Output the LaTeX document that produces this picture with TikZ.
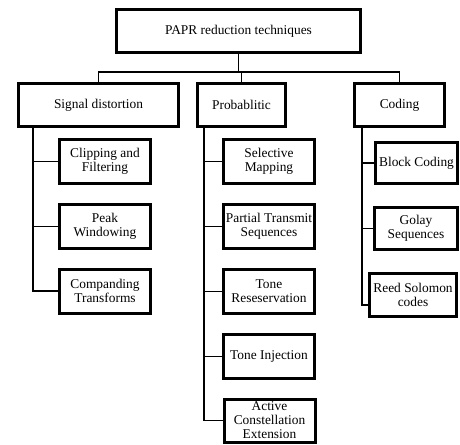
\documentclass[tikz,border=0pt]{standalone}
\usepackage{fontspec}
\setmainfont{Liberation Serif}

\begin{document}
\begin{tikzpicture}[
	x = 1pt, y = -1pt,
	caja/.style = {
		draw, line width = 3pt, align = center, inner sep = 0.5pt,
		font = \fontsize{13.4}{14}\selectfont
	},
	hoja/.style = {caja, minimum width = 91pt, minimum height = 44pt},
	rama/.style = {line width = 1.7pt},
]

	% márgenes del dibujo
	\useasboundingbox (0,0) rectangle (460,444);

	% nodo raíz
	\node[caja, minimum width = 244pt, minimum height = 43pt]
		(papr) at (238.5,31) {PAPR reduction techniques};

	% categorías
	\node[caja, minimum width = 160pt, minimum height = 43pt]
		(dist) at (98.5,105) {Signal distortion};
	\node[caja, minimum width = 88pt, minimum height = 43pt]
		(prob) at (241.5,105) {Probablitic};
	\node[caja, minimum width = 90pt, minimum height = 43pt]
		(cod) at (399.5,105) {Coding};

	% distorsión de la señal
	\node[hoja] (clip) at (105,161.5) {Clipping and\\Filtering};
	\node[hoja] (peak) at (105,226.5) {Peak\\Windowing};
	\node[hoja] (comp) at (105,291) {Companding\\Transforms};

	% técnicas probabilísticas
	\node[hoja] (slm) at (269,161.5) {Selective\\Mapping};
	\node[hoja] (pts) at (269,226.5) {Partial Transmit\\Sequences};
	\node[hoja] (tr) at (269,291.5) {Tone\\Reseservation};
	\node[hoja] (ti) at (269,356.5) {Tone Injection};
	\node[hoja, minimum height = 43pt] (ace) at (269.5,420.5) {Active\\Constellation\\Extension};

	% codificación
	\node[caja, minimum width = 82pt, minimum height = 41pt]
		(block) at (416.5,163) {Block Coding};
	\node[caja, minimum width = 83pt, minimum height = 42pt]
		(golay) at (416,228.5) {Golay\\Sequences};
	\node[caja, minimum width = 87pt, minimum height = 43pt]
		(reed) at (413,295) {Reed Solomon\\codes};

	% bus superior
	\coordinate (bus) at (238.5,72);
	\draw[rama] (papr.south) -- (bus);
	\foreach \n in {dist, prob, cod}
		\draw[rama] (bus) -| (\n.north);

	% ramas verticales
	\foreach \h in {clip, peak, comp}
		\draw[rama] ([xshift = 16pt]dist.south west) |- (\h.west);

	\foreach \h in {slm, pts, tr, ti, ace}
		\draw[rama] ([xshift = 8pt]prob.south west) |- (\h.west);

	\foreach \h in {block, golay}
		\draw[rama] ([xshift = 9pt]cod.south west) |- (\h.west);
	\draw[rama] ([xshift = 9pt]cod.south west) |- ([yshift = -10pt]reed.west);

\end{tikzpicture}
\end{document}
